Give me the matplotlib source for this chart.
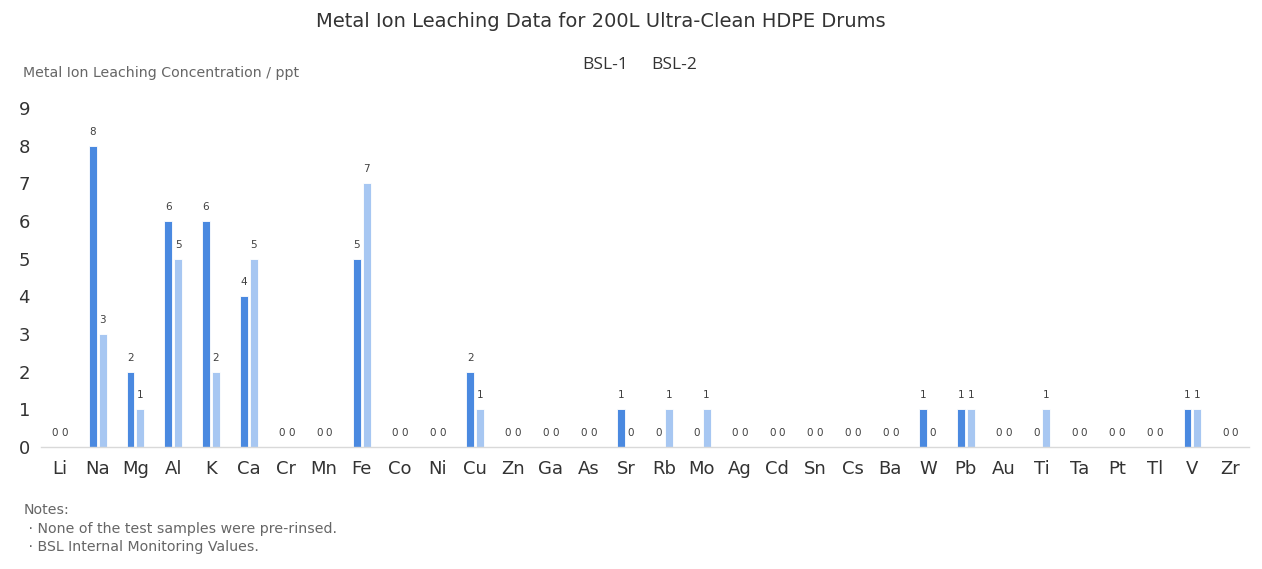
import matplotlib
matplotlib.use("Agg")
import matplotlib.pyplot as plt
import numpy as np

categories = ["Li", "Na", "Mg", "Al", "K", "Ca", "Cr", "Mn", "Fe", "Co", "Ni", "Cu",
              "Zn", "Ga", "As", "Sr", "Rb", "Mo", "Ag", "Cd", "Sn", "Cs", "Ba", "W",
              "Pb", "Au", "Ti", "Ta", "Pt", "Tl", "V", "Zr"]
bsl1 = [0, 8, 2, 6, 6, 4, 0, 0, 5, 0, 0, 2, 0, 0, 0, 1, 0, 0, 0, 0, 0, 0, 0, 1,
        1, 0, 0, 0, 0, 0, 1, 0]
bsl2 = [0, 3, 1, 5, 2, 5, 0, 0, 7, 0, 0, 1, 0, 0, 0, 0, 1, 1, 0, 0, 0, 0, 0, 0,
        1, 0, 1, 0, 0, 0, 1, 0]
yticks = list(range(0, 10))
series_names = ["BSL-1", "BSL-2"]

c1 = "#4A89E0"
c2 = "#A7C7F2"

fig = plt.figure(figsize=(12.62, 5.69), dpi=100)
ax = fig.add_axes([0.0325, 0.2144, 0.9572, 0.5958])

x = np.arange(len(categories))
w = 0.21
off = 0.13
b1 = ax.bar(x - off, bsl1, width=w, color=c1, edgecolor="white", linewidth=0.6)
b2 = ax.bar(x + off, bsl2, width=w, color=c2, edgecolor="white", linewidth=0.6)

for bars, vals in ((b1, bsl1), (b2, bsl2)):
    for rect, v in zip(bars, vals):
        ax.annotate(str(v), (rect.get_x() + rect.get_width() / 2, v),
                    xytext=(0, 9), textcoords="offset pixels",
                    ha="center", va="bottom", fontsize=7.5, color="#404040")

ax.set_xlim(-0.5, len(categories) - 0.5)
ax.set_ylim(0, 9)
ax.set_yticks(yticks)
ax.set_xticks(x)
ax.set_xticklabels(categories)
ax.tick_params(axis="both", length=0, labelsize=13, colors="#333333")
ax.tick_params(axis="y", pad=8)
ax.tick_params(axis="x", pad=9)
for s in ("top", "right", "left"):
    ax.spines[s].set_visible(False)
ax.spines["bottom"].set_color("#D9D9D9")
ax.spines["bottom"].set_linewidth(1)

fig.text(0.476, 0.962, "Metal Ion Leaching Data for 200L Ultra-Clean HDPE Drums",
         ha="center", va="center", fontsize=14, color="#333333")
fig.text(605.5 / 1262, 0.885, series_names[0],
         ha="center", va="center", fontsize=12.5, color="#333333", family="Open Sans")
fig.text(674 / 1262, 0.885, series_names[1],
         ha="center", va="center", fontsize=12.5, color="#333333", family="Open Sans")
fig.text(0.018, 0.871, "Metal Ion Leaching Concentration / ppt",
         ha="left", va="center", fontsize=10.2, color="#666666")
fig.text(0.019, 0.104, "Notes:", ha="left", va="center", fontsize=10.2, color="#666666")
fig.text(0.019, 0.071, " \u00b7 None of the test samples were pre-rinsed.",
         ha="left", va="center", fontsize=10.2, color="#666666")
fig.text(0.019, 0.038, " \u00b7 BSL Internal Monitoring Values.",
         ha="left", va="center", fontsize=10.2, color="#666666")

fig.savefig("out.png", dpi=100, facecolor="white")
